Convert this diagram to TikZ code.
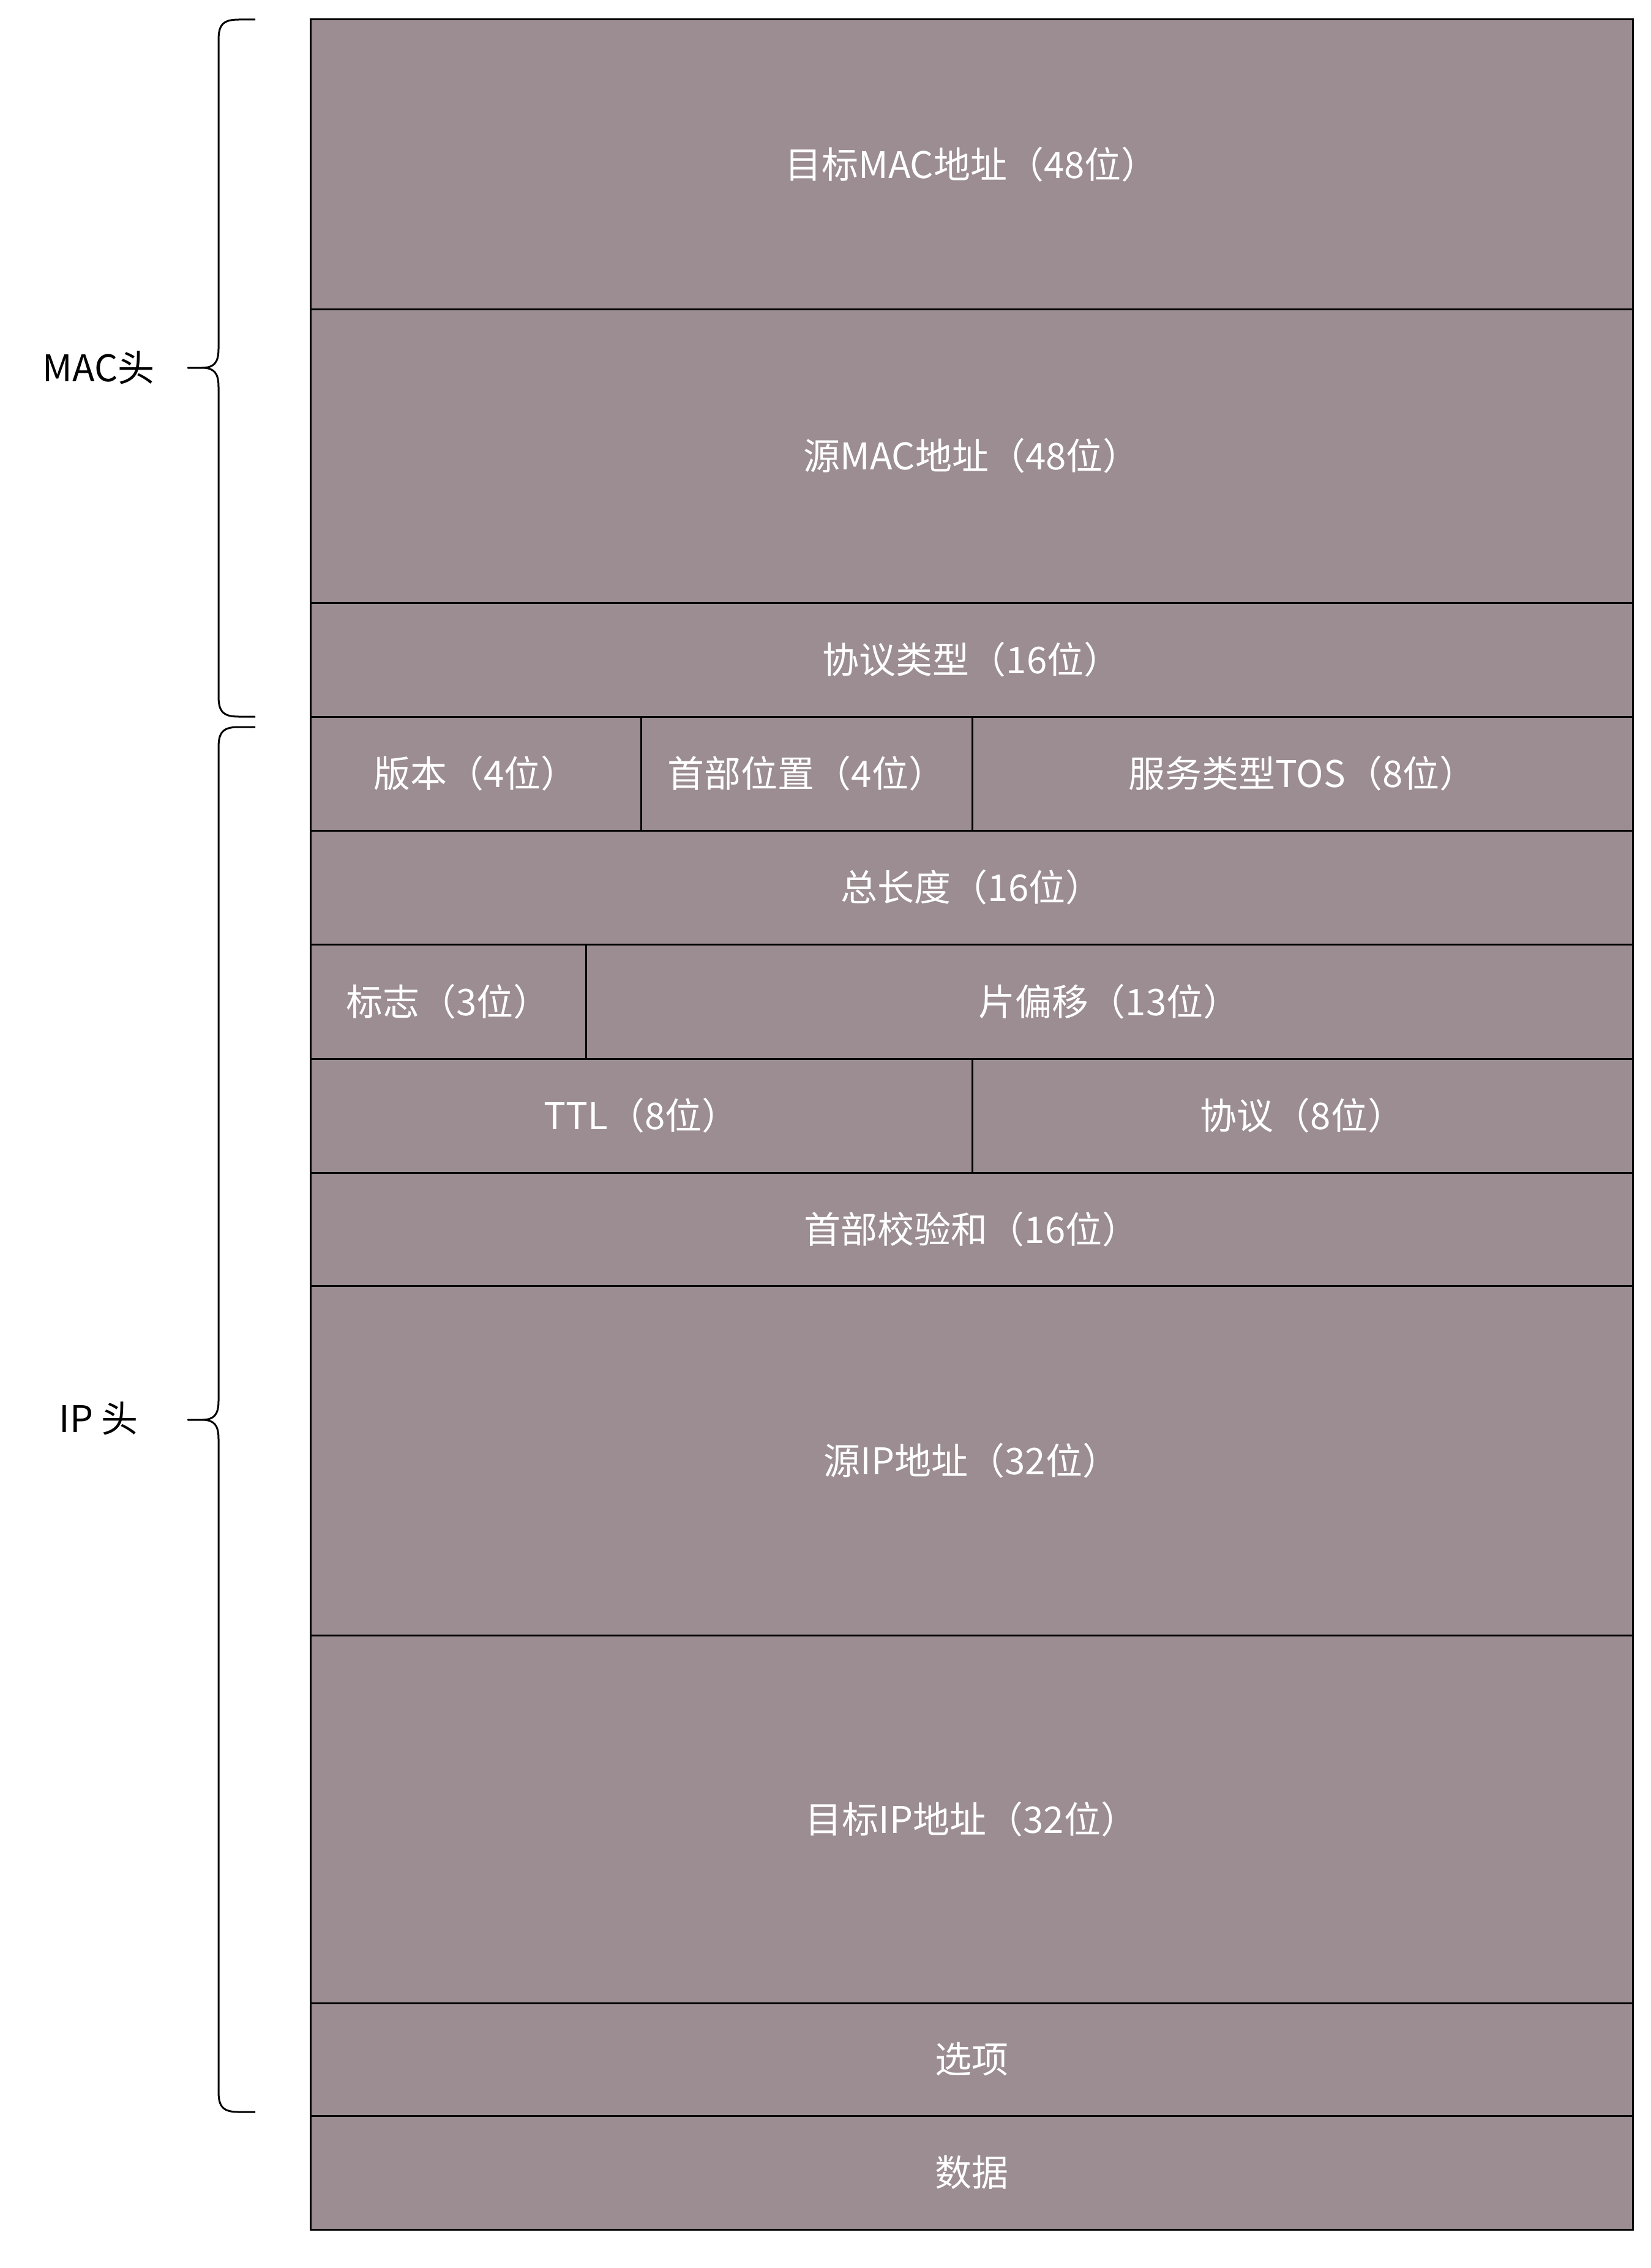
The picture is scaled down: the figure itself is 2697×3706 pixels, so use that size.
\documentclass[tikz,border=0pt]{standalone}
\usepackage{fontspec}
\setmainfont{Noto Sans CJK SC}
\definecolor{fieldfill}{RGB}{155,141,145}
\tikzset{
  field/.style={draw=black,fill=fieldfill,line width=3pt},
  fieldtext/.style={text=white,font=\fontsize{60}{66}\selectfont,inner sep=0pt},
  headtext/.style={text=black,font=\fontsize{60}{66}\selectfont,inner sep=0pt},
  hbrace/.style={draw=black,line width=3pt,line join=round}
}
\begin{document}
\begin{tikzpicture}[x=1pt,y=-1pt]
\useasboundingbox (0,0) rectangle (2697,3706);

% MAC header
\draw[field] (507,32) rectangle (2667,505) node[midway,fieldtext] (dstmac) {目标MAC地址（48位）};
\draw[field] (507,505) rectangle (2667,985) node[midway,fieldtext] (srcmac) {源MAC地址（48位）};
\draw[field] (507,985) rectangle (2667,1171) node[midway,fieldtext] (ethtype) {协议类型（16位）};

% IP header
\draw[field] (507,1171) rectangle (1047,1357) node[midway,fieldtext] (ver) {版本（4位）};
\draw[field] (1047,1171) rectangle (1588,1357) node[midway,fieldtext] (hlen) {首部位置（4位）};
\draw[field] (1588,1171) rectangle (2667,1357) node[midway,fieldtext] (tos) {服务类型TOS（8位）};
\draw[field] (507,1357) rectangle (2667,1543) node[midway,fieldtext] (totlen) {总长度（16位）};
\draw[field] (507,1543) rectangle (957,1730) node[midway,fieldtext] (flags) {标志（3位）};
\draw[field] (957,1543) rectangle (2667,1730) node[midway,fieldtext] (fragoff) {片偏移（13位）};
\draw[field] (507,1730) rectangle (1588,1916) node[midway,fieldtext] (ttl) {TTL（8位）};
\draw[field] (1588,1730) rectangle (2667,1916) node[midway,fieldtext] (proto) {协议（8位）};
\draw[field] (507,1916) rectangle (2667,2101) node[midway,fieldtext] (chksum) {首部校验和（16位）};
\draw[field] (507,2101) rectangle (2667,2672) node[midway,fieldtext] (srcip) {源IP地址（32位）};
\draw[field] (507,2672) rectangle (2667,3273) node[midway,fieldtext] (dstip) {目标IP地址（32位）};
\draw[field] (507,3273) rectangle (2667,3457) node[midway,fieldtext] (opts) {选项};

% payload
\draw[field] (507,3457) rectangle (2667,3643) node[midway,fieldtext] (payload) {数据};

% braces
\draw[hbrace] (417,32) -- (390,32) .. controls (365,32) and (357,40) .. (357,65) -- (357,570)
  .. controls (357,592) and (350,601) .. (330,601) -- (307,601) -- (330,601)
  .. controls (350,601) and (357,610) .. (357,632) -- (357,1138)
  .. controls (357,1163) and (365,1171) .. (390,1171) -- (417,1171);
\draw[hbrace] (417,1188) -- (390,1188) .. controls (365,1188) and (357,1196) .. (357,1221) -- (357,2289)
  .. controls (357,2311) and (350,2320) .. (330,2320) -- (307,2320) -- (330,2320)
  .. controls (350,2320) and (357,2329) .. (357,2351) -- (357,3418)
  .. controls (357,3443) and (365,3451) .. (390,3451) -- (417,3451);

\node[headtext] (machead) at (161,601) {MAC头};
\node[headtext] (iphead) at (161,2318) {IP 头};
\end{tikzpicture}
\end{document}
